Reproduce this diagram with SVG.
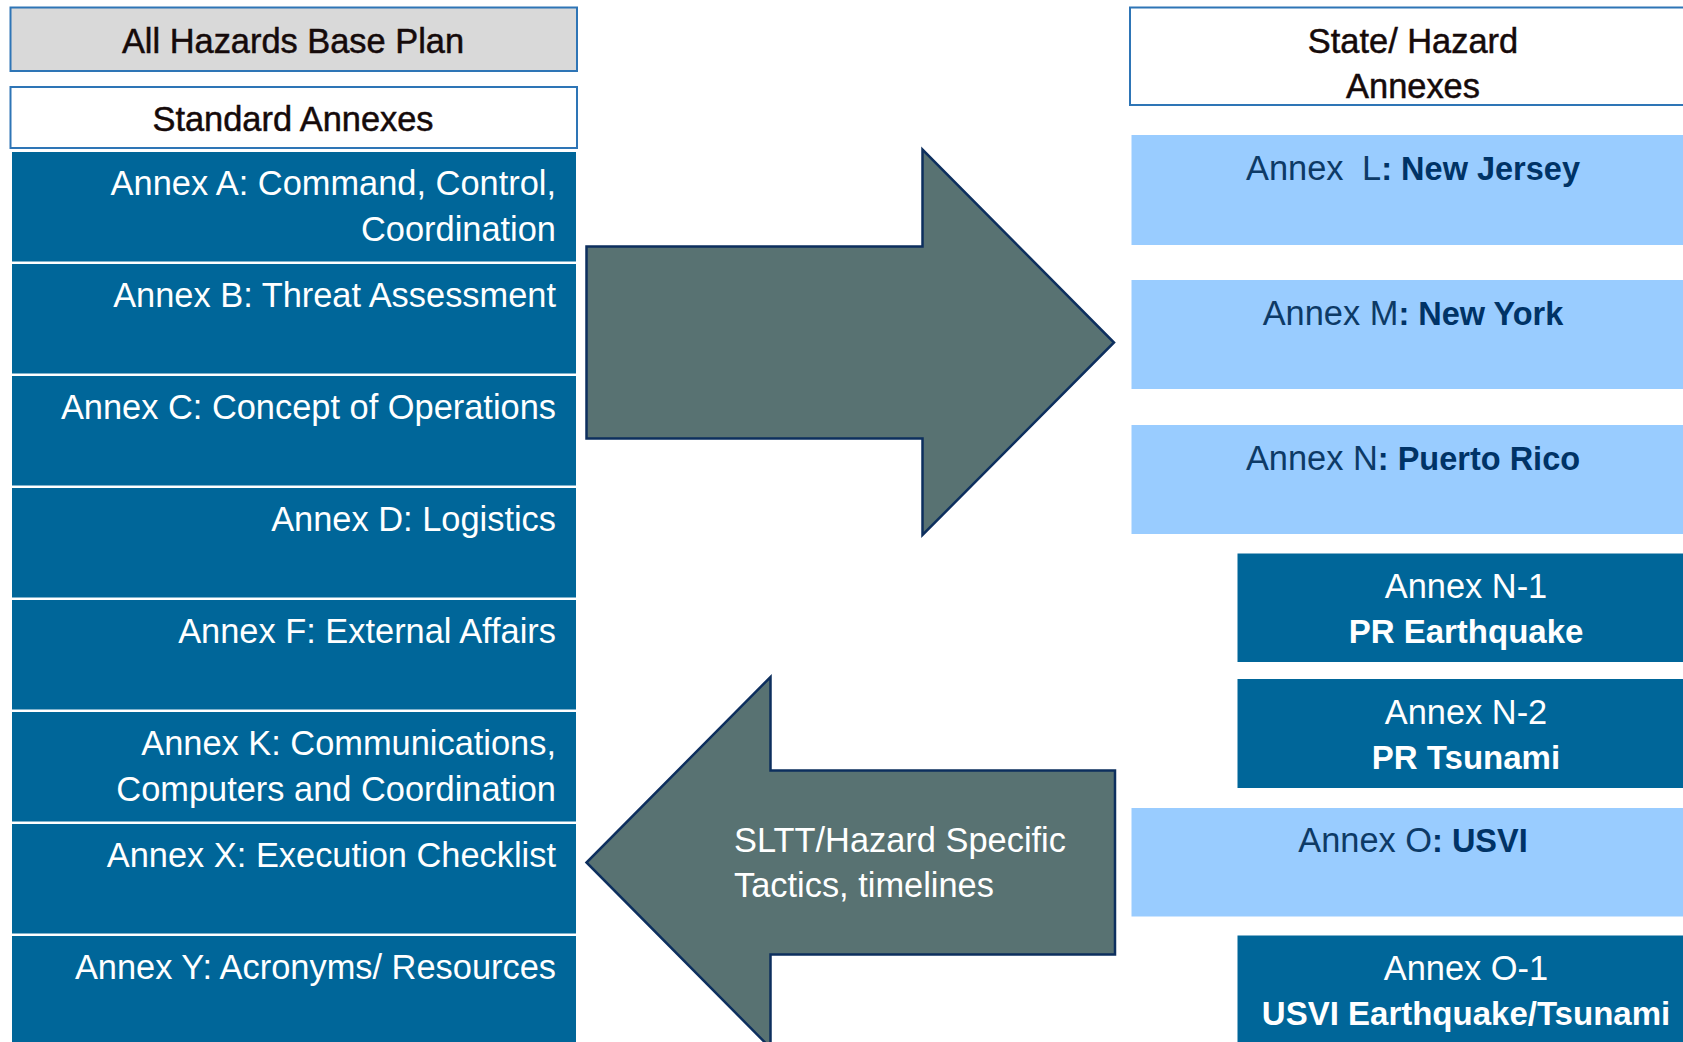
<svg xmlns="http://www.w3.org/2000/svg" width="1683" height="1042" viewBox="0 0 1683 1042">
<style>
text{font-family:"Liberation Sans",Arial,sans-serif;font-size:34.4px}
.hdr{fill:#ffffff;stroke:#2e75b6;stroke-width:2}
.hdrt{fill:#150a0a;text-anchor:middle;stroke:#150a0a;stroke-width:0.5}
.dk{fill:#006699;stroke:#ffffff;stroke-width:1}
.lt{fill:#99ccff}
.wr{fill:#ffffff;text-anchor:end}
.wc{fill:#ffffff;text-anchor:middle}
.nc{fill:#0d3a66;text-anchor:middle}
.b{font-weight:bold;fill:#003366;font-size:32.5px}
.wb{font-weight:bold;font-size:33px}
.arrow{fill:#587272;stroke:#0d2f5e;stroke-width:2.5;stroke-linejoin:miter}
</style>
<rect width="1683" height="1042" fill="#ffffff"/>

<g id="base-plan">
<rect x="10.5" y="7.5" width="566.5" height="63.5" fill="#d9d9d9" stroke="#2e75b6" stroke-width="2"/>
<text class="hdrt" x="293" y="53">All Hazards Base Plan</text>
</g>
<g id="standard-annexes">
<rect class="hdr" x="10.5" y="87" width="566.5" height="61"/>
<text class="hdrt" x="293" y="131">Standard Annexes</text>
</g>

<g id="annex-a"><rect class="dk" x="11.5" y="151.5" width="565" height="110.5"/>
<text class="wr" x="556" y="195">Annex A: Command, Control,</text>
<text class="wr" x="556" y="240.5">Coordination</text></g>
<g id="annex-b"><rect class="dk" x="11.5" y="263.5" width="565" height="110.5"/>
<text class="wr" x="556" y="307">Annex B: Threat Assessment</text></g>
<g id="annex-c"><rect class="dk" x="11.5" y="375.5" width="565" height="110.5"/>
<text class="wr" x="556" y="419">Annex C: Concept of Operations</text></g>
<g id="annex-d"><rect class="dk" x="11.5" y="487.5" width="565" height="110.5"/>
<text class="wr" x="556" y="531">Annex D: Logistics</text></g>
<g id="annex-f"><rect class="dk" x="11.5" y="599.5" width="565" height="110.5"/>
<text class="wr" x="556" y="643">Annex F: External Affairs</text></g>
<g id="annex-k"><rect class="dk" x="11.5" y="711.5" width="565" height="110.5"/>
<text class="wr" x="556" y="755">Annex K: Communications,</text>
<text class="wr" x="556" y="800.5">Computers and Coordination</text></g>
<g id="annex-x"><rect class="dk" x="11.5" y="823.5" width="565" height="110.5"/>
<text class="wr" x="556" y="867">Annex X: Execution Checklist</text></g>
<g id="annex-y"><rect class="dk" x="11.5" y="935.5" width="565" height="120"/>
<text class="wr" x="556" y="979">Annex Y: Acronyms/ Resources</text></g>

<g id="connectors">
<polygon class="arrow" points="586.5,246.5 922.5,246.5 922.5,149.5 1114,342.5 922.5,535 922.5,438.5 586.5,438.5"/>
<g id="sltt-arrow">
<polygon class="arrow" points="1115,770.5 770.5,770.5 770.5,677 586.5,862.5 770.5,1048 770.5,954.5 1115,954.5"/>
<text fill="#ffffff" x="734" y="852">SLTT/Hazard Specific</text>
<text fill="#ffffff" x="734" y="897">Tactics, timelines</text>
</g>
</g>

<g id="state-hazard">
<rect class="hdr" x="1130" y="7.5" width="570" height="97.5"/>
<text class="hdrt" x="1413" y="53">State/ Hazard</text>
<text class="hdrt" x="1413" y="98">Annexes</text>
</g>

<g id="annex-l"><rect class="lt" x="1131.5" y="135" width="560" height="110"/>
<text class="nc" x="1413" y="180">Annex <tspan dx="9">L</tspan><tspan class="b">: New Jersey</tspan></text></g>
<g id="annex-m"><rect class="lt" x="1131.5" y="280" width="560" height="109"/>
<text class="nc" x="1413" y="324.5">Annex M<tspan class="b">: New York</tspan></text></g>
<g id="annex-n"><rect class="lt" x="1131.5" y="425" width="560" height="109"/>
<text class="nc" x="1413" y="469.5">Annex N<tspan class="b">: Puerto Rico</tspan></text></g>
<g id="annex-n1"><rect fill="#006699" x="1237.5" y="553.5" width="460" height="108.5"/>
<text class="wc" x="1466" y="598">Annex N-1</text>
<text class="wc wb" x="1466" y="643">PR Earthquake</text></g>
<g id="annex-n2"><rect fill="#006699" x="1237.5" y="679" width="460" height="109"/>
<text class="wc" x="1466" y="723.5">Annex N-2</text>
<text class="wc wb" x="1466" y="768.5">PR Tsunami</text></g>
<g id="annex-o"><rect class="lt" x="1131.5" y="808" width="560" height="108.5"/>
<text class="nc" x="1413" y="852">Annex O<tspan class="b">: USVI</tspan></text></g>
<g id="annex-o1"><rect fill="#006699" x="1237.5" y="935.5" width="460" height="120"/>
<text class="wc" x="1466" y="980">Annex O-1</text>
<text class="wc wb" x="1466" y="1025">USVI Earthquake/Tsunami</text></g>
</svg>
